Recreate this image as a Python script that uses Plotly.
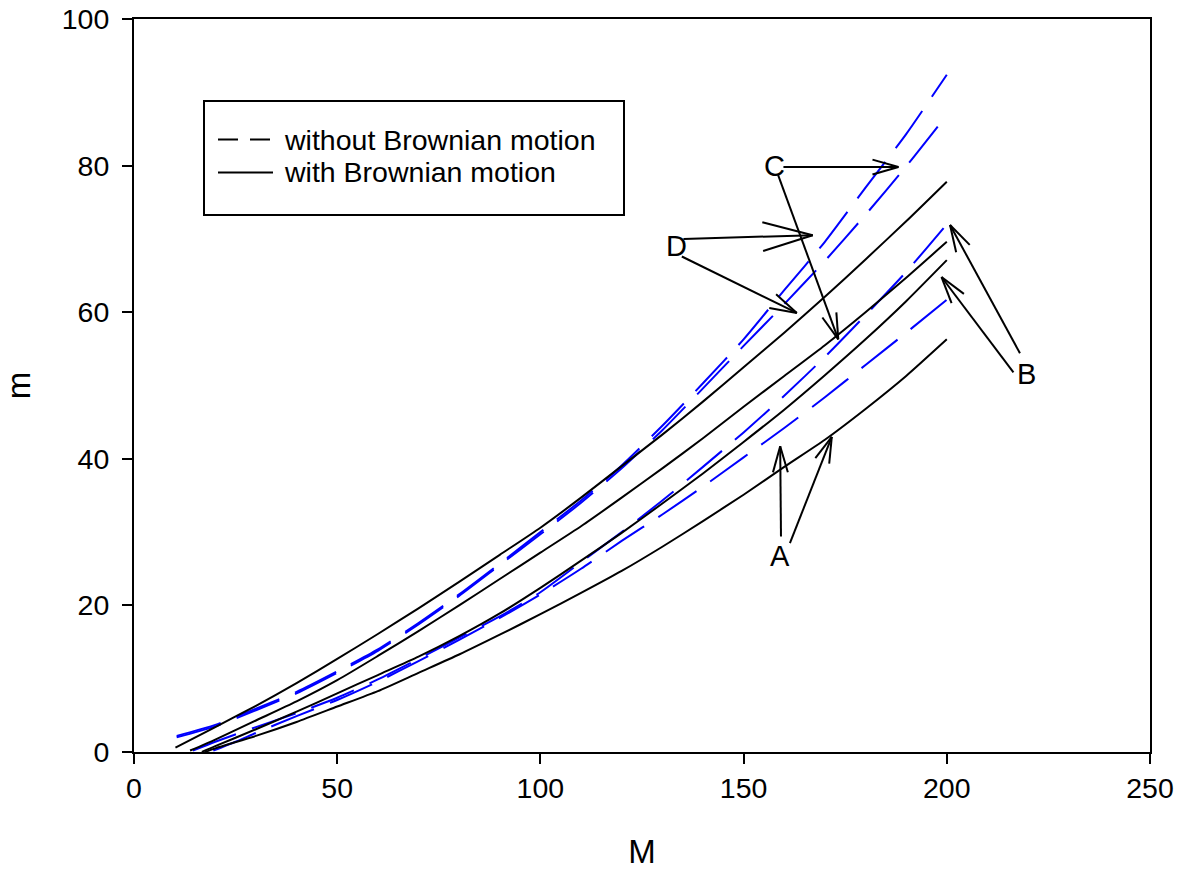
import math
import plotly.graph_objects as go

# ---- data: m versus M for four cases (A-D) ----
# with Brownian motion (solid black)
M_A_bm = [17.5, 20, 30, 40, 50, 60, 70, 80, 90, 100, 110, 120, 130, 140, 150, 160, 170, 180, 190, 200]
m_A_bm = [0.0, 0.5, 2.2, 4.1, 6.2, 8.3, 10.8, 13.3, 16.0, 18.8, 21.7, 24.7, 28.0, 31.5, 35.1, 38.9, 42.6, 46.8, 51.3, 56.3]
M_B_bm = [16.7, 20, 30, 40, 50, 60, 70, 80, 90, 100, 110, 120, 130, 140, 150, 160, 170, 180, 190, 200]
m_B_bm = [0.0, 0.8, 3.1, 5.5, 8.0, 10.5, 13.0, 15.8, 18.9, 22.4, 26.1, 29.9, 33.9, 38.0, 42.3, 46.7, 51.4, 56.3, 61.5, 67.1]
M_C_bm = [13.8, 20, 30, 40, 50, 60, 70, 80, 90, 100, 110, 120, 130, 140, 150, 160, 170, 180, 190, 200]
m_C_bm = [0.2, 1.7, 4.3, 6.9, 9.8, 13.1, 16.5, 20.0, 23.6, 27.2, 30.8, 34.7, 38.7, 42.8, 47.1, 51.3, 55.5, 60.0, 64.7, 69.6]
M_D_bm = [10.2, 20, 30, 40, 50, 60, 70, 80, 90, 100, 110, 120, 130, 140, 150, 160, 170, 180, 190, 200]
m_D_bm = [0.6, 3.4, 6.3, 9.4, 12.7, 16.1, 19.6, 23.2, 26.9, 30.6, 34.7, 39.0, 43.3, 47.8, 52.5, 57.2, 62.1, 67.2, 72.4, 77.8]

# without Brownian motion (dashed blue)
M_A_nb = [19.5, 25, 30, 40, 50, 60, 70, 80, 90, 100, 110, 120, 130, 140, 150, 160, 170, 180, 190, 200]
m_A_nb = [0.2, 1.4, 2.6, 4.9, 7.1, 9.6, 12.4, 15.3, 18.3, 21.5, 25.0, 28.8, 32.4, 36.2, 40.2, 44.2, 48.4, 52.8, 57.2, 61.7]
M_B_nb = [14.5, 20, 30, 40, 50, 60, 70, 80, 90, 100, 110, 120, 130, 140, 150, 160, 170, 180, 190, 200]
m_B_nb = [0.2, 1.4, 3.4, 5.3, 7.4, 9.9, 12.7, 15.6, 18.5, 21.8, 25.9, 30.0, 34.3, 38.9, 43.6, 48.6, 53.9, 59.6, 65.5, 72.0]
M_C_nb = [10.5, 20, 30, 40, 50, 60, 70, 80, 90, 100, 110, 120, 130, 140, 150, 160, 170, 180, 190, 200]
m_C_nb = [2.0, 3.5, 5.7, 8.0, 10.8, 13.8, 17.4, 21.3, 25.5, 29.7, 34.0, 38.7, 43.9, 49.6, 55.4, 61.1, 67.0, 73.3, 79.9, 86.9]
M_D_nb = [10.5, 20, 30, 40, 50, 60, 70, 80, 90, 100, 110, 120, 130, 140, 150, 160, 170, 180, 190, 200]
m_D_nb = [2.2, 3.7, 5.9, 8.2, 11.0, 14.0, 17.6, 21.5, 25.7, 30.0, 34.3, 39.1, 44.5, 50.3, 56.3, 63.0, 69.6, 77.0, 84.3, 92.4]

x_ticks = [0, 50, 100, 150, 200, 250]
y_ticks = [0, 20, 40, 60, 80, 100]
legend_labels = ["without Brownian motion", "with Brownian motion"]

# ---- figure geometry ----
W, H = 1183, 870
ML, MR, MT, MB = 134, 33, 19, 118
X_RANGE = [0, 250]
Y_RANGE = [0, 100]
PW, PH = W - ML - MR, H - MT - MB
SX = PW / (X_RANGE[1] - X_RANGE[0])   # px per unit M
SY = PH / (Y_RANGE[1] - Y_RANGE[0])   # px per unit m

FONT = "Arial, Liberation Sans, sans-serif"
BLUE = "#0000ff"

fig = go.Figure()

solid_sets = [(M_A_bm, m_A_bm), (M_B_bm, m_B_bm), (M_C_bm, m_C_bm), (M_D_bm, m_D_bm)]
dashed_sets = [(M_A_nb, m_A_nb), (M_B_nb, m_B_nb), (M_C_nb, m_C_nb), (M_D_nb, m_D_nb)]

for xs, ys in dashed_sets:
    fig.add_trace(go.Scatter(x=xs, y=ys, mode="lines", showlegend=False,
                             line=dict(color=BLUE, width=2, dash="46px,17px", shape="spline", smoothing=0.6)))
for xs, ys in solid_sets:
    fig.add_trace(go.Scatter(x=xs, y=ys, mode="lines", showlegend=False,
                             line=dict(color="black", width=2, shape="spline", smoothing=0.6)))

# ---- labelled arrows (open V heads) ----
labels = [
    ("A", 159.0, 26.7),
    ("B", 219.5, 51.6),
    ("C", 157.5, 80.0),
    ("D", 133.4, 69.0),
]
# (tail M, tail m, tip M, tip m, head length px)
arrows = [
    (159.2, 29.4, 159.0, 41.7, 27),
    (161.4, 28.5, 171.7, 43.0, 27),
    (218.0, 54.4, 200.8, 71.9, 28),
    (216.4, 51.8, 198.7, 64.8, 28),
    (159.8, 79.8, 188.1, 79.8, 27),
    (158.5, 78.7, 173.3, 56.3, 27),
    (135.2, 70.0, 167.0, 70.5, 52),
    (134.8, 67.6, 163.1, 59.9, 28),
]
HALF_ANGLE = math.radians(16)

shapes = []
line_style = dict(color="black", width=2)
for x0, y0, x1, y1, hl in arrows:
    shapes.append(dict(type="line", xref="x", yref="y", x0=x0, y0=y0, x1=x1, y1=y1, line=line_style))
    dx, dy = (x1 - x0) * SX, (y1 - y0) * SY
    ang = math.atan2(dy, dx)
    for s in (-1, 1):
        a = ang + math.pi + s * HALF_ANGLE
        bx = x1 + hl * math.cos(a) / SX
        by = y1 + hl * math.sin(a) / SY
        shapes.append(dict(type="line", xref="x", yref="y", x0=x1, y0=y1, x1=bx, y1=by, line=line_style))

annotations = []
for txt, lx, ly in labels:
    annotations.append(dict(text=txt, x=lx, y=ly, xref="x", yref="y", showarrow=False,
                            font=dict(family=FONT, size=29, color="black"),
                            xanchor="center", yanchor="middle"))

# ---- legend box drawn in paper coordinates ----
def px_to_paper(px, py):
    return (px - ML) / PW, (H - MB - py) / PH

lx0, ly0 = px_to_paper(204, 215)
lx1, ly1 = px_to_paper(624, 101)
shapes.append(dict(type="rect", xref="paper", yref="paper", x0=lx0, y0=ly0, x1=lx1, y1=ly1,
                   line=dict(color="black", width=2), fillcolor="white", layer="below"))
sx0, _ = px_to_paper(218, 0)
sx1, _ = px_to_paper(273, 0)
_, row1 = px_to_paper(0, 139.5)
_, row2 = px_to_paper(0, 172.5)
shapes.append(dict(type="line", xref="paper", yref="paper", x0=sx0, y0=row1, x1=sx1, y1=row1,
                   line=dict(color="black", width=2, dash="20px,12px")))
shapes.append(dict(type="line", xref="paper", yref="paper", x0=sx0, y0=row2, x1=sx1, y1=row2,
                   line=dict(color="black", width=2)))
tx, _ = px_to_paper(282, 0)
for txt, ry in zip(legend_labels, (row1, row2)):
    annotations.append(dict(text=txt, x=tx, y=ry, xref="paper", yref="paper", showarrow=False,
                            xanchor="left", yanchor="middle",
                            font=dict(family=FONT, size=28.5, color="black")))

axis_common = dict(
    showgrid=False, zeroline=False, showline=True, linecolor="black", linewidth=2,
    mirror=True, ticks="outside", ticklen=10, tickwidth=2, tickcolor="black",
    tickfont=dict(family=FONT, size=28.5, color="black"), automargin=False,
)

fig.update_layout(
    width=W, height=H, autosize=False,
    margin=dict(l=ML, r=MR, t=MT, b=MB),
    paper_bgcolor="white", plot_bgcolor="white",
    xaxis=dict(range=X_RANGE, tickvals=x_ticks, title=dict(text="M", standoff=40,
               font=dict(family=FONT, size=33, color="black")), **axis_common),
    yaxis=dict(range=Y_RANGE, tickvals=y_ticks, ticklabelstandoff=7,
               title=dict(text="m", standoff=30, font=dict(family=FONT, size=33, color="black")),
               **axis_common),
    shapes=shapes,
    annotations=annotations,
    showlegend=False,
)

fig.write_html("out.html")
